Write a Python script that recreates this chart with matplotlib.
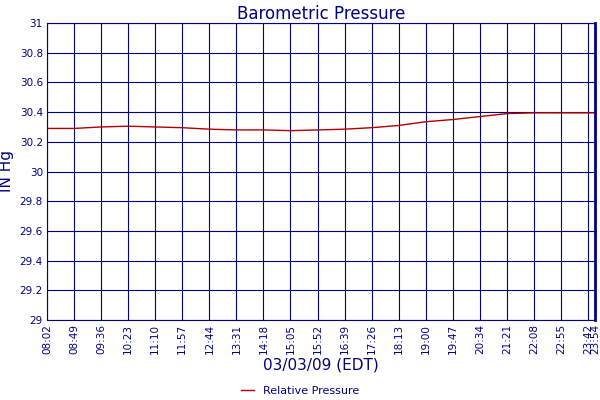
import matplotlib.pyplot as plt

navy = '#000080'
tick_labels = ['08:02', '08:49', '09:36', '10:23', '11:10', '11:57', '12:44', '13:31',
               '14:18', '15:05', '15:52', '16:39', '17:26', '18:13', '19:00', '19:47',
               '20:34', '21:21', '22:08', '22:55', '23:42', '23:54']
pressure = [30.29, 30.29, 30.30, 30.305, 30.30, 30.295, 30.285, 30.28,
            30.28, 30.275, 30.28, 30.285, 30.295, 30.31, 30.335, 30.35,
            30.37, 30.39, 30.395, 30.395, 30.395, 30.395]


def to_min(s):
    h, m = s.split(':')
    return int(h) * 60 + int(m)


minutes = [to_min(t) for t in tick_labels]

fig = plt.figure(figsize=(6, 4), dpi=100)
ax = fig.add_axes([47 / 600, 80 / 400, 548 / 600, 297 / 400])
ax.plot(minutes, pressure, color='#b00000', lw=1.0, label='Relative Pressure')
ax.set_xlim(minutes[0], minutes[-1])
ax.set_ylim(29, 31)
ax.set_xticks(minutes)
ax.set_xticklabels(tick_labels, rotation=90, fontsize=7.5, color=navy)
ax.set_yticks([29 + 0.2 * i for i in range(11)])
ax.set_yticklabels(['29', '29.2', '29.4', '29.6', '29.8', '30', '30.2', '30.4',
                    '30.6', '30.8', '31'], fontsize=7.5, color=navy)
ax.grid(True, color=navy, lw=0.8)
ax.tick_params(length=0, pad=3)
for s in ax.spines.values():
    s.set_color(navy)
ax.spines['right'].set_linewidth(2)
ax.set_title('Barometric Pressure', color=navy, fontsize=12, pad=3)
ax.set_ylabel('IN Hg', color=navy, fontsize=11, labelpad=4)
ax.set_xlabel('03/03/09 (EDT)', color=navy, fontsize=11, labelpad=2)
fig.legend(loc='lower center', bbox_to_anchor=(0.5, -0.015), frameon=False,
           fontsize=8, labelcolor=navy, handlelength=1.2)
fig.savefig('out.png')
